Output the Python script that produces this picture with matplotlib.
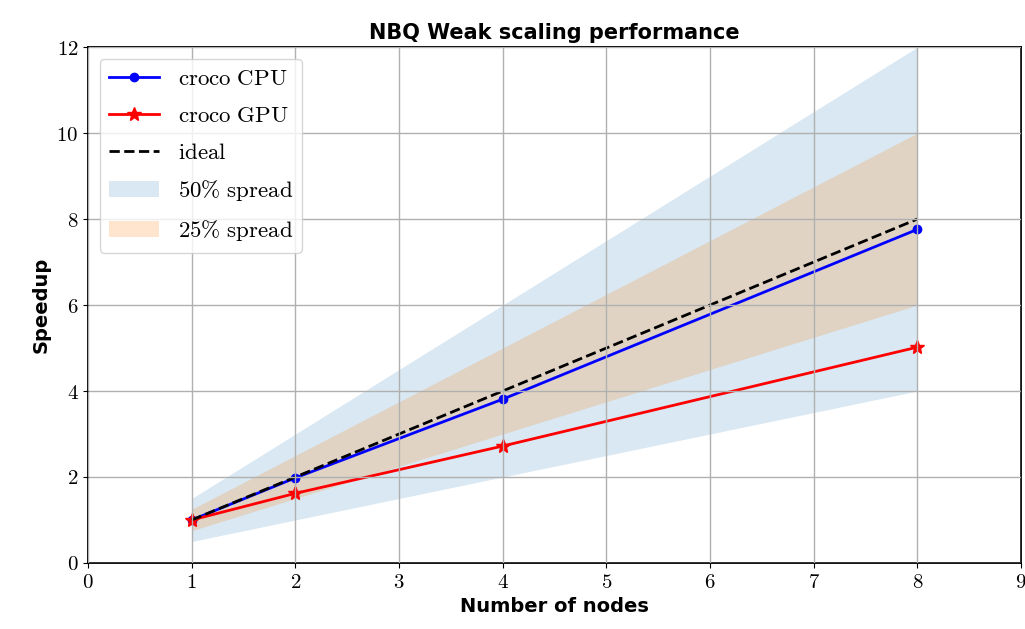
import numpy as np
import matplotlib
matplotlib.use("Agg")
import matplotlib.pyplot as plt

plt.rcParams['mathtext.fontset'] = 'cm'
plt.rcParams['font.family'] = ['DejaVu Serif']

nodes = [1, 2, 4, 8]
cpu_speedup = [1.0, 1.98, 3.81, 7.76]
gpu_speedup = [1.0, 1.62, 2.72, 5.02]
ideal = [1, 2, 4, 8]

x_ticks = list(range(0, 10))
y_ticks = list(range(0, 13, 2))

fig, ax = plt.subplots(figsize=(10.25, 6.29), dpi=100)
fig.subplots_adjust(left=0.086, right=0.996, top=0.925, bottom=0.105)

ideal_arr = np.array(ideal, dtype=float)
ax.fill_between(nodes, ideal_arr * 0.5, ideal_arr * 1.5, color='C0', alpha=0.17,
                linewidth=0, label=r'$\mathrm{50\%\ spread}$')
ax.fill_between(nodes, ideal_arr * 0.75, ideal_arr * 1.25, color='C1', alpha=0.2,
                linewidth=0, label=r'$\mathrm{25\%\ spread}$')

ax.plot(nodes, cpu_speedup, '-o', color='blue', lw=2, ms=6, label=r'$\mathrm{croco\ CPU}$')
ax.plot(nodes, gpu_speedup, '-*', color='red', lw=2, ms=10, label=r'$\mathrm{croco\ GPU}$')
ax.plot(nodes, ideal, '--', color='black', lw=2, label=r'$\mathrm{ideal}$')

ax.set_xlim(0, 9)
ax.set_ylim(0, 12)
ax.set_xticks(x_ticks)
ax.set_yticks(y_ticks)
ax.set_xticklabels([r'$%d$' % v for v in x_ticks], fontsize=15)
ax.set_yticklabels([r'$%d$' % v for v in y_ticks], fontsize=15)
ax.grid(True, color='#b0b0b0', lw=1)
ax.set_axisbelow(False)
for s in ax.spines.values():
    s.set_linewidth(1.3)

ax.set_xlabel('Number of nodes', fontsize=14, fontweight='bold', family='DejaVu Sans')
ax.set_ylabel('Speedup', fontsize=14, fontweight='bold', family='DejaVu Sans')
ax.set_title('NBQ Weak scaling performance', fontsize=15, fontweight='bold', family='DejaVu Sans')

handles, labels = ax.get_legend_handles_labels()
order = [2, 3, 4, 0, 1]
ax.legend([handles[i] for i in order], [labels[i] for i in order], loc='upper left',
          fontsize=16.5, handlelength=2.2, labelspacing=0.65, borderaxespad=0.5)

fig.savefig('out.png', dpi=100)
